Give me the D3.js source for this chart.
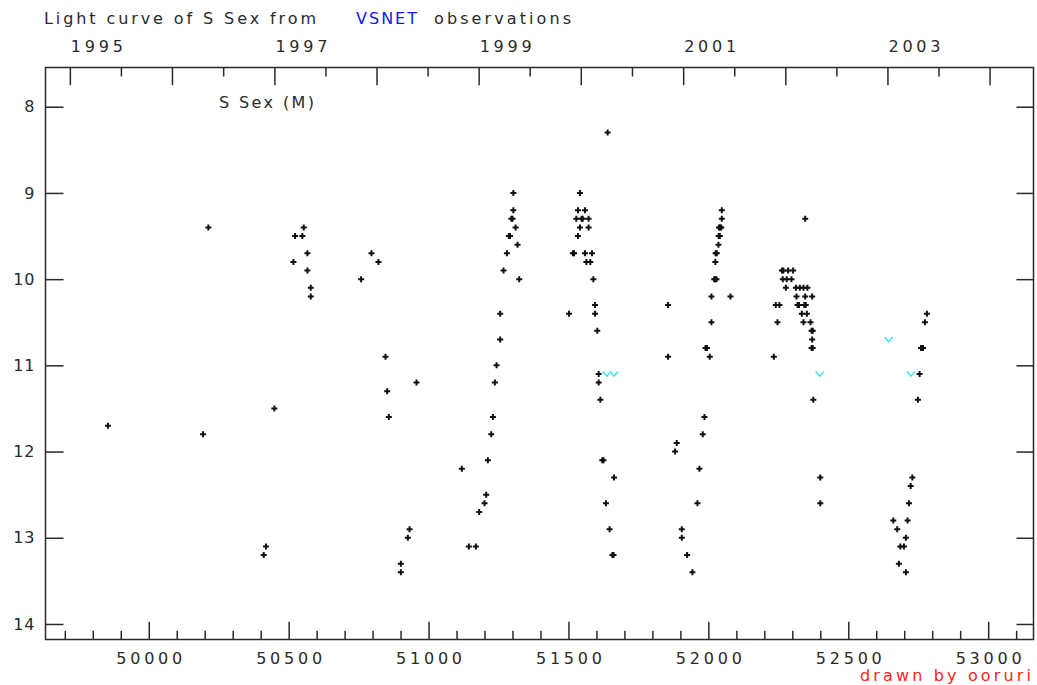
<!DOCTYPE html>
<html><head><meta charset="utf-8">
<script src="https://cdn.jsdelivr.net/npm/d3@7"></script>
<style>
body{margin:0;background:#fff;}
svg{display:block;font-family:"DejaVu Sans",Verdana,sans-serif;}
</style></head><body>
<svg id="chart" width="1037" height="685"></svg>
<script>
// Observations (MJD = JD - 2400000) and visual magnitudes
const obsJD = [
 49854,50194,50213,50411,50419,50449,50517,50523,50549,50554,50567,50567,50579,50579,
 50759,50796,50821,50846,50852,50858,50901,50901,50926,50932,50957,
 51119,51144,51169,51181,51200,51206,51212,51224,51230,51237,51243,51256,51256,51268,
 51280,51287,51291,51296,51300,51303,51303,51311,51318,51324,
 51502,51516,51520,51528,51534,51534,51541,51541,51547,51551,51559,51559,51564,51572,
 51572,51578,51584,51589,51595,51595,51603,51608,51608,51614,51621,51625,51634,51640,
 51647,51657,51661,51663,
 51856,51856,51881,51887,51905,51905,51924,51943,51961,51968,51980,51986,51990,51995,
 52005,52011,52011,52021,52025,52029,52025,52026,52030,52036,52037,52041,52038,52042,
 52046,52048,52048,52079,
 52234,52241,52247,52254,52263,52268,52285,52303,52266,52280,52297,52277,52313,52327,
 52340,52354,52315,52346,52371,52319,52324,52343,52348,52334,52352,52340,52365,52369,
 52373,52371,52369,52373,52375,52400,52400,52346,
 52661,52675,52681,52686,52699,52706,52706,52712,52717,52723,52729,52749,52755,52760,
 52767,52774,52781
];
const obsMag = [
 11.7,11.8,9.4,13.2,13.1,11.5,9.8,9.5,9.5,9.4,9.7,9.9,10.1,10.2,
 10.0,9.7,9.8,10.9,11.3,11.6,13.3,13.4,13.0,12.9,11.2,
 12.2,13.1,13.1,12.7,12.6,12.5,12.1,11.8,11.6,11.2,11.0,10.7,10.4,9.9,
 9.7,9.5,9.5,9.3,9.3,9.2,9.0,9.4,9.6,10.0,
 10.4,9.7,9.7,9.3,9.2,9.5,9.0,9.4,9.3,9.3,9.2,9.7,9.8,9.3,
 9.4,9.8,9.7,10.0,10.3,10.4,10.6,11.1,11.2,11.4,12.1,12.1,12.6,8.3,
 12.9,13.2,13.2,12.3,
 10.3,10.9,12.0,11.9,12.9,13.0,13.2,13.4,12.6,12.2,11.8,11.6,10.8,10.8,
 10.9,10.5,10.2,10.0,10.0,10.0,9.8,9.7,9.7,9.6,9.5,9.5,9.4,9.4,
 9.4,9.3,9.2,10.2,
 10.9,10.3,10.5,10.3,9.9,9.9,9.9,9.9,10.0,10.0,10.0,10.1,10.1,10.1,
 10.1,10.1,10.2,10.2,10.2,10.3,10.3,10.3,10.3,10.4,10.4,10.5,10.5,10.6,
 10.6,10.7,10.8,10.8,11.4,12.3,12.6,9.3,
 12.8,12.9,13.3,13.1,13.1,13.0,13.4,12.8,12.6,12.4,12.3,11.4,11.1,10.8,
 10.8,10.5,10.4
];
// "fainter than" observations
const limJD  = [51637, 51663, 52398, 52644, 52724];
const limMag = [11.1, 11.1, 11.1, 10.7, 11.1];

// Axis ticks
const jdMajorTicks = [50000, 50500, 51000, 51500, 52000, 52500, 53000];
const jdMinorStep = 100;
const magTicks = [8, 9, 10, 11, 12, 13, 14];
const yearTicks = [1995, 1996, 1997, 1998, 1999, 2000, 2001, 2002, 2003, 2004];
const yearLabels = ["1995", "1997", "1999", "2001", "2003"];

const svg = d3.select("#chart");
const L = 45.5, R = 1033.5, T = 67.5, B = 639.5;
const x = d3.scaleLinear().domain([49631, 53162]).range([L, R]);
const y = d3.scaleLinear().domain([7.545, 14.18]).range([T, B]);
const ink = "#2a2a2a";

const yearMJD = yr => Date.UTC(yr, 0, 1) / 864e5 + 40587;
const yearPos = yearTicks.map(yearMJD);
const halfPos = yearPos.slice(0, -1).map((v, i) => (v + yearPos[i + 1]) / 2);
const minorJD = d3.range(49700, 53101, jdMinorStep).filter(v => !jdMajorTicks.includes(v));

function style(g, fs) {
  g.select(".domain").remove();
  g.selectAll(".tick line").attr("stroke", ink).attr("stroke-width", 1.5);
  g.attr("font-family", null).attr("font-size", fs);
  g.selectAll("text").attr("fill", ink);
}

// bottom axis
svg.append("g").attr("transform", `translate(0,${B})`)
  .call(d3.axisBottom(x).tickValues(minorJD).tickSize(-8.7).tickFormat(""))
  .call(g => style(g, 16));
svg.append("g").attr("transform", `translate(0,${B})`)
  .call(d3.axisBottom(x).tickValues(jdMajorTicks).tickSize(-17.7).tickPadding(13).tickFormat(d3.format("d")))
  .call(g => style(g, 16))
  .call(g => g.selectAll("text").attr("textLength", 66).attr("lengthAdjust", "spacing"));

// top axis (years)
svg.append("g").attr("transform", `translate(0,${T})`)
  .call(d3.axisTop(x).tickValues(halfPos).tickSize(-9).tickFormat(""))
  .call(g => style(g, 16));
svg.append("g").attr("transform", `translate(0,${T})`)
  .call(d3.axisTop(x).tickValues(yearPos).tickSize(-17.7).tickPadding(15.5)
        .tickFormat((d, i) => yearLabels.includes(String(yearTicks[i])) ? String(yearTicks[i]) : ""))
  .call(g => style(g, 16))
  .call(g => g.selectAll("text").attr("text-anchor", "start").attr("x", 0.5)
        .attr("textLength", function(){ return this.textContent ? 52 : null; })
        .attr("lengthAdjust", "spacing"));

// left / right axes
svg.append("g").attr("transform", `translate(${L},0)`)
  .call(d3.axisLeft(y).tickValues(magTicks).tickSize(-18).tickPadding(10).tickFormat(d3.format("d")))
  .call(g => style(g, 16))
  .call(g => g.selectAll("text").attr("letter-spacing", 1));
svg.append("g").attr("transform", `translate(${R},0)`)
  .call(d3.axisRight(y).tickValues(magTicks).tickSize(-17).tickFormat(""))
  .call(g => style(g, 16));

// frame
svg.append("rect").attr("x", L).attr("y", T).attr("width", R - L).attr("height", B - T)
  .attr("fill", "none").attr("stroke", ink).attr("stroke-width", 1.5);

// observations
svg.append("g").selectAll("path").data(obsJD.map((d, i) => [d, obsMag[i]])).join("path")
  .attr("transform", d => `translate(${x(d[0])},${y(d[1])})`)
  .attr("d", "M-3,0H3M0,-3V3")
  .attr("stroke", "#111").attr("stroke-width", 2).attr("fill", "none");

// fainter-than marks
svg.append("g").selectAll("path").data(limJD.map((d, i) => [d, limMag[i]])).join("path")
  .attr("transform", d => `translate(${x(d[0])},${y(d[1])})`)
  .attr("d", "M-4,-2.5L0,2.2L4,-2.5")
  .attr("stroke", "#3fe3ee").attr("stroke-width", 1.5).attr("fill", "none");

// texts
const txt = (s, tx, ty, len, col) => svg.append("text").attr("x", tx).attr("y", ty)
  .attr("font-size", 16).attr("fill", col || ink).attr("textLength", len)
  .attr("lengthAdjust", "spacing").text(s);
txt("Light curve of S Sex from", 44, 24, 272);
txt("VSNET", 356, 24, 61, "#1515f5");
txt("observations", 434, 24, 137);
txt("S Sex (M)", 219, 108, 95);
txt("drawn by ooruri", 860, 681, 171, "#ff2222");
</script>
</body></html>
